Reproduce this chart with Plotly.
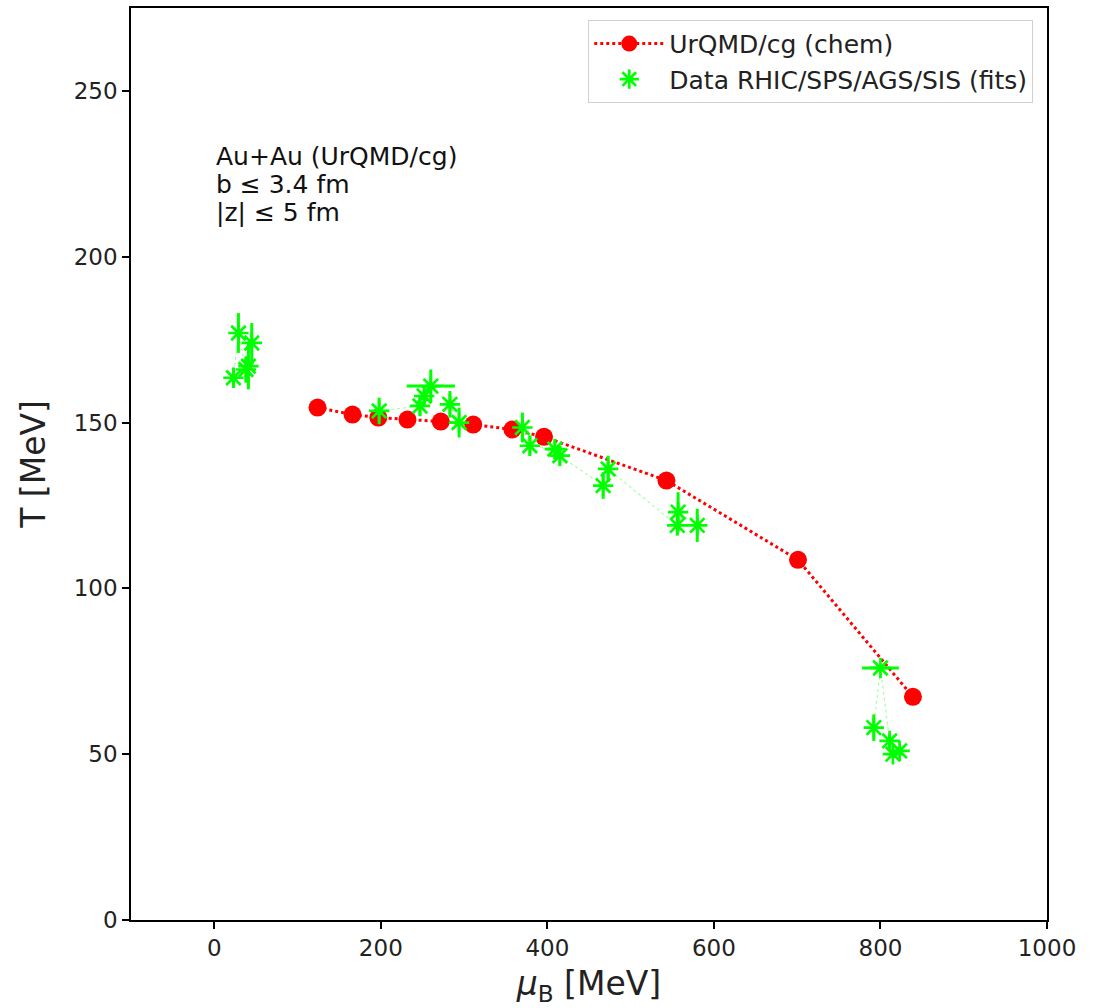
import plotly.graph_objects as go

# UrQMD/cg (chem)
urqmd_mu = [124, 166, 197, 232, 272, 311, 358, 396, 543, 701, 839]
urqmd_T = [154.5, 152.4, 151.5, 150.9, 150.3, 149.4, 147.9, 145.7, 132.5, 108.6, 67.3]

# Data RHIC/SPS/AGS/SIS (fits)
data_group = ["RHIC"] * 5 + ["SPS"] * 6 + ["AGS"] * 9 + ["SIS"] * 5
data_mu = [23, 29, 38, 41, 45, 198, 247, 252, 260, 283, 294, 370, 379, 409, 415, 467, 473, 556, 557, 580, 792, 800, 811, 815, 823]
data_T = [163.5, 177, 166, 167, 174, 153.5, 155, 158, 161, 155.5, 150, 148.5, 143, 142, 140, 131, 136, 119, 123, 119, 58, 76, 54, 50, 51]
data_dmu = [0, 0, 0, 0, 0, 0, 0, 0, 29, 0, 0, 0, 0, 8, 0, 0, 0, 0, 0, 0, 0, 22, 0, 0, 0]
data_dT = [3, 6, 4, 7, 6, 4, 3, 3, 5, 4, 4.5, 4.5, 3, 3, 3, 4, 4, 3, 6, 5, 4, 0, 2, 0, 0]

x_ticks = [0, 200, 400, 600, 800, 1000]
y_ticks = [0, 50, 100, 150, 200, 250]

info_lines = ["Au+Au (UrQMD/cg)", "b ≤ 3.4 fm", "|z| ≤ 5 fm"]
info_y = [230.2, 221.8, 213.3]

FONT = "DejaVu Sans"
GREEN = "#00ff00"

fig = go.Figure()

fig.add_trace(go.Scatter(
    x=urqmd_mu, y=urqmd_T, mode="lines+markers",
    name="UrQMD/cg (chem)",
    line=dict(color="red", width=3, dash="dot"),
    marker=dict(symbol="circle", size=18, color="red"),
))

# thin dotted connecting line, drawn within each data group only
groups = []
for g in data_group:
    if g not in groups:
        groups.append(g)
for g in groups:
    idx = [i for i, gg in enumerate(data_group) if gg == g]
    fig.add_trace(go.Scatter(
        x=[data_mu[i] for i in idx], y=[data_T[i] for i in idx],
        mode="lines", showlegend=False, hoverinfo="skip",
        line=dict(color="rgba(0,255,0,0.35)", width=1.2, dash="dot"),
    ))

fig.add_trace(go.Scatter(
    x=data_mu, y=data_T, mode="markers",
    name="Data RHIC/SPS/AGS/SIS (fits)",
    marker=dict(symbol="asterisk-open", size=17, color=GREEN,
                line=dict(color=GREEN, width=2.7)),
    error_x=dict(type="data", array=data_dmu, visible=True, color=GREEN, thickness=3, width=0),
    error_y=dict(type="data", array=data_dT, visible=True, color=GREEN, thickness=3, width=0),
))

for txt, yy in zip(info_lines, info_y):
    fig.add_annotation(
        x=0, y=yy, xref="x", yref="y", xanchor="left", yanchor="middle",
        text=txt, showarrow=False, align="left",
        font=dict(family=FONT, size=25, color="#111"),
    )

axis_common = dict(
    showline=True, linecolor="black", linewidth=1.5, mirror=True,
    ticks="outside", ticklen=7, tickwidth=1.5, tickcolor="black",
    showgrid=False, zeroline=False, automargin=False,
    tickfont=dict(family=FONT, size=23, color="#222"),
)

fig.update_xaxes(
    range=[-100, 1000], tickvals=x_ticks,
    title=dict(text="<i>μ</i><sub>B</sub> [MeV]", font=dict(family=FONT, size=33, color="#222"), standoff=12),
    **axis_common,
)
fig.update_yaxes(
    range=[0, 275], tickvals=y_ticks,
    title=dict(text="T [MeV]", font=dict(family=FONT, size=33, color="#222"), standoff=18),
    **axis_common,
)

fig.update_layout(
    width=1096, height=1008,
    margin=dict(l=131, r=49, t=8, b=88),
    plot_bgcolor="white", paper_bgcolor="white",
    font=dict(family=FONT, color="black"),
    legend=dict(
        x=0.985, y=0.987, xanchor="right", yanchor="top",
        bgcolor="white", bordercolor="#d0d0d0", borderwidth=1,
        font=dict(family=FONT, size=25, color="#222"),
        itemwidth=70, tracegroupgap=4,
    ),
)

fig.write_html("out.html")
